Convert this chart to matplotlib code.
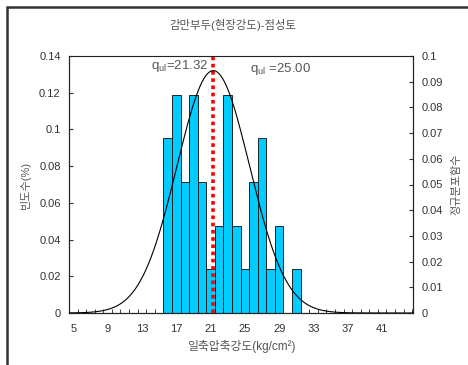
import matplotlib.pyplot as plt
import numpy as np
from matplotlib.patches import Rectangle

plt.rcParams['font.family'] = ['Liberation Sans', 'Noto Sans CJK KR', 'DejaVu Sans']
plt.rcParams['mathtext.default'] = 'regular'

# ─── data ──────────────────────────────────────────────────────────
bin_centers = [16, 17, 18, 19, 20, 21, 22, 23, 24, 25, 26, 27, 28, 29, 30, 31]
freq = [0.0952, 0.1190, 0.0714, 0.1190, 0.0714, 0.0238, 0.0476, 0.1190,
        0.0476, 0.0238, 0.0714, 0.0952, 0.0238, 0.0476, 0.0, 0.0238]
q_mean = 21.32      # red dotted line
q_design = 25.00    # second annotation
q_std = 4.23        # spread of the fitted normal curve

x_labels = [5, 9, 13, 17, 21, 25, 29, 33, 37, 41]
left_ticks = [0, 0.02, 0.04, 0.06, 0.08, 0.1, 0.12, 0.14]
right_ticks = [0, 0.01, 0.02, 0.03, 0.04, 0.05, 0.06, 0.07, 0.08, 0.09, 0.1]

TXT = "#333333"
LBL = "#555555"

fig = plt.figure(figsize=(4.68, 3.65), dpi=100)
ax = fig.add_axes([69 / 468, 52 / 365, 344 / 468, 257 / 365])
ax2 = ax.twinx()

# histogram bars
ax.bar(bin_centers, freq, width=1.0, color="#00CCFF", edgecolor="#222222",
       linewidth=0.7, zorder=2)
ax.set_xlim(4.5, 44.6)
ax.set_ylim(0, 0.14)
ax.set_yticks(left_ticks)
ax.set_yticklabels([f"{t:g}" for t in left_ticks])
ax.set_xticks(x_labels)
ax.set_xticks(np.arange(4.5, 44.6, 1.0), minor=True)
ax.tick_params(axis="x", which="major", length=0, pad=8, labelsize=8, colors=TXT)
ax.tick_params(axis="x", which="minor", direction="in", length=3, color="#222222")
ax.tick_params(axis="y", direction="in", length=3, labelsize=8, colors=TXT, pad=6)

# red dotted mean line
ax.axvline(q_mean, color="#FF0000", lw=2.6, linestyle=(0, (1, 1)), zorder=4)

# normal curve on the right axis
xs = np.linspace(4.5, 44.6, 400)
pdf = np.exp(-0.5 * ((xs - q_mean) / q_std) ** 2) / (q_std * np.sqrt(2 * np.pi))
ax2.plot(xs, pdf, color="black", lw=0.8, zorder=3)
ax2.set_ylim(0, 0.1)
ax2.set_yticks(right_ticks)
ax2.set_yticklabels([f"{t:g}" for t in right_ticks])
ax2.tick_params(axis="y", direction="in", length=3, labelsize=8, colors=TXT, pad=6)

for a in (ax, ax2):
    for s in a.spines.values():
        s.set_color("#222222")
        s.set_linewidth(0.8)
ax.spines["top"].set_color("#888888")
ax.spines["top"].set_linewidth(0.6)

ax.set_xlabel("일축압축강도(kg/cm²)", fontsize=8.5, color=LBL, labelpad=4)
ax.set_ylabel("빈도수(%)", fontsize=8, color=LBL, labelpad=6)
ax2.set_ylabel("정규분포함수", fontsize=8, color=LBL, labelpad=6)

ax.text(q_mean - 0.6, 0.1348, f"q$_{{ul}}$={q_mean:.2f}", ha="right", va="center",
        fontsize=9.5, color=LBL)
ax.text(q_design + 0.55, 0.1329, f"q$_{{ul}}$ ={q_design:.2f}", ha="left", va="center",
        fontsize=9.5, color=LBL)

fig.text(233 / 468, 1 - 25 / 365, "감만부두(현장강도)-점성토", ha="center", va="center",
         fontsize=8.2, color=LBL)

# outer frame (only top and left edges are visible)
fig.patches.append(Rectangle((7 / 468, -0.1), 1.2, 1 - 7 / 365 + 0.1,
                             transform=fig.transFigure, fill=False,
                             edgecolor="#333333", lw=1.8))

fig.savefig("out.png", dpi=100)
